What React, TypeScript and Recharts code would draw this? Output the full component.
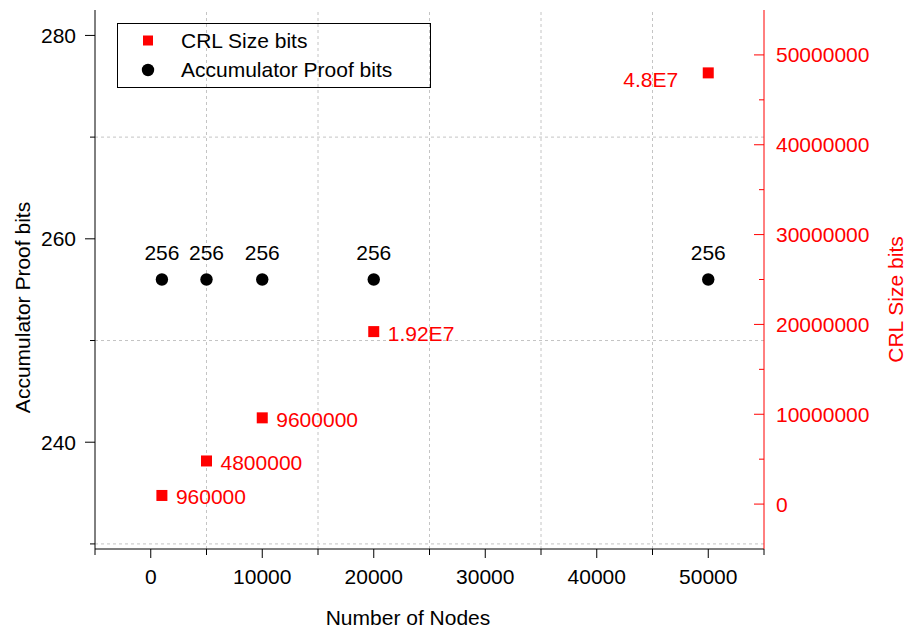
import { ScatterChart, Scatter, XAxis, YAxis, ReferenceLine, Legend } from 'recharts';

// number of nodes on the x axis
const NODES = [1000, 5000, 10000, 20000, 50000];

// accumulator proof size (left axis)
const ACC_PROOF_BITS = [256, 256, 256, 256, 256];
const ACC_LABELS = ['256', '256', '256', '256', '256'];

// CRL size (right axis)
const CRL_SIZE_BITS = [960000, 4800000, 9600000, 19200000, 48000000];
const CRL_LABELS = ['960000', '4800000', '9600000', '1.92E7', '4.8E7'];

const X_TICKS = [-5000, 0, 5000, 10000, 15000, 20000, 25000, 30000, 35000, 40000, 45000, 50000, 55000];
const X_LABELED = [0, 10000, 20000, 30000, 40000, 50000];
const X_GRID = [5000, 15000, 25000, 35000, 45000];

const LEFT_TICKS = [230, 240, 250, 260, 270, 280];
const LEFT_LABELED = [240, 260, 280];
const LEFT_GRID = [230, 250, 270];

const RIGHT_TICKS = [
  0, 5000000, 10000000, 15000000, 20000000, 25000000,
  30000000, 35000000, 40000000, 45000000, 50000000,
];
const RIGHT_LABELED = [0, 10000000, 20000000, 30000000, 40000000, 50000000];

const CRL_NAME = 'CRL Size bits';
const ACC_NAME = 'Accumulator Proof bits';

const RED = '#ff0000';
const GRID = '#c4c4c4';
const FONT = '"Liberation Sans", Arial, Helvetica, sans-serif';
const FS = 21;

const accData = NODES.map((n, i) => ({ x: n, y: ACC_PROOF_BITS[i], label: ACC_LABELS[i] }));
const crlData = NODES.map((n, i) => ({ x: n, y: CRL_SIZE_BITS[i], label: CRL_LABELS[i] }));

const AccMarker = (props: any) => {
  const { cx, cy, payload } = props;
  return (
    <g>
      <circle cx={cx} cy={cy} r={6.2} fill="#000" />
      <text x={cx} y={cy - 19.5} textAnchor="middle" fill="#000" fontSize={FS} fontFamily={FONT}>
        {payload.label}
      </text>
    </g>
  );
};

const CrlMarker = (props: any) => {
  const { cx, cy, payload } = props;
  // the last point sits near the right edge, so its label goes to the left
  const left = payload.x > 40000;
  return (
    <g>
      <rect x={cx - 5.5} y={cy - 5.5} width={11} height={11} fill={RED} />
      <text
        x={left ? cx - 30 : cx + 14}
        y={left ? cy + 14.5 : cy + 9}
        textAnchor={left ? 'end' : 'start'}
        fill={RED}
        fontSize={FS}
        fontFamily={FONT}
      >
        {payload.label}
      </text>
    </g>
  );
};

const renderXTick = (props: any) => {
  const { x, y, payload } = props;
  const major = X_LABELED.includes(payload.value);
  return (
    <g>
      <line x1={x} y1={y} x2={x} y2={y + (major ? 9 : 6)} stroke="#000" />
      {major && (
        <text x={x} y={y + 35} textAnchor="middle" fill="#000" fontSize={FS} fontFamily={FONT}>
          {payload.value}
        </text>
      )}
    </g>
  );
};

const renderLeftTick = (props: any) => {
  const { x, y, payload } = props;
  const major = LEFT_LABELED.includes(payload.value);
  return (
    <g>
      <line x1={x - (major ? 10 : 5)} y1={y} x2={x} y2={y} stroke="#000" />
      {major && (
        <text x={x - 19} y={y + 7.5} textAnchor="end" fill="#000" fontSize={FS} fontFamily={FONT}>
          {payload.value}
        </text>
      )}
    </g>
  );
};

const renderRightTick = (props: any) => {
  const { x, y, payload } = props;
  const major = RIGHT_LABELED.includes(payload.value);
  return (
    <g>
      <line x1={x - (major ? 10 : 5)} y1={y} x2={x} y2={y} stroke={RED} />
      {major && (
        <text x={x + 12} y={y + 7.5} textAnchor="start" fill={RED} fontSize={FS} fontFamily={FONT}>
          {payload.value}
        </text>
      )}
    </g>
  );
};

const renderXTitle = (props: any) => {
  const vb = props.viewBox || { x: 95, y: 549, width: 669, height: 79 };
  return (
    <text x={vb.x + vb.width / 2 - 21.5} y={vb.y + 76} textAnchor="middle" fill="#000" fontSize={FS} fontFamily={FONT}>
      Number of Nodes
    </text>
  );
};

const renderLeftTitle = (props: any) => {
  const vb = props.viewBox || { x: 0, y: 10, width: 95, height: 539 };
  const cx = vb.x + 30;
  const cy = vb.y + vb.height / 2 + 28;
  return (
    <text x={cx} y={cy} transform={`rotate(-90, ${cx}, ${cy})`} textAnchor="middle" fill="#000" fontSize={FS} fontFamily={FONT}>
      {ACC_NAME}
    </text>
  );
};

const renderRightTitle = (props: any) => {
  const vb = props.viewBox || { x: 764, y: 10, width: 142, height: 539 };
  const cx = vb.x + 139;
  const cy = vb.y + vb.height / 2 + 20;
  return (
    <text x={cx} y={cy} transform={`rotate(-90, ${cx}, ${cy})`} textAnchor="middle" fill={RED} fontSize={FS} fontFamily={FONT}>
      {CRL_NAME}
    </text>
  );
};

const renderLegend = () => (
  <svg width={314} height={65} style={{ display: 'block' }}>
    <rect x={0.5} y={0.5} width={313} height={64} fill="none" stroke="#000" />
    <rect x={26} y={12.5} width={10} height={10} fill={RED} />
    <text x={64} y={24.7} fill="#000" fontSize={FS} fontFamily={FONT}>
      {CRL_NAME}
    </text>
    <circle cx={31} cy={47} r={6.2} fill="#000" />
    <text x={64} y={54.3} fill="#000" fontSize={FS} fontFamily={FONT}>
      {ACC_NAME}
    </text>
  </svg>
);

export default function App() {
  return (
    <div style={{ position: 'absolute', left: 0, top: 0, background: '#fff' }}>
      <ScatterChart width={906} height={628} margin={{ top: 10, right: 0, bottom: 0, left: 0 }}>
        <XAxis
          type="number"
          dataKey="x"
          domain={[-5000, 55000]}
          ticks={X_TICKS}
          interval={0}
          allowDataOverflow
          height={79}
          tickSize={0}
          tickMargin={0}
          tickLine={false}
          axisLine={{ stroke: '#000' }}
          tick={renderXTick}
          label={renderXTitle}
        />
        <XAxis
          xAxisId="top"
          orientation="top"
          type="number"
          dataKey="x"
          domain={[-5000, 55000]}
          allowDataOverflow
          height={0}
          tick={false}
          tickLine={false}
          axisLine={{ stroke: '#000' }}
        />
        <YAxis
          yAxisId="left"
          orientation="left"
          type="number"
          dataKey="y"
          domain={[229.5, 282.5]}
          ticks={LEFT_TICKS}
          interval={0}
          allowDataOverflow
          width={95}
          tickSize={0}
          tickMargin={0}
          tickLine={false}
          axisLine={{ stroke: '#000' }}
          tick={renderLeftTick}
          label={renderLeftTitle}
        />
        <YAxis
          yAxisId="right"
          orientation="right"
          type="number"
          dataKey="y"
          domain={[-5000000, 55000000]}
          ticks={RIGHT_TICKS}
          interval={0}
          allowDataOverflow
          width={142}
          tickSize={0}
          tickMargin={0}
          tickLine={false}
          axisLine={{ stroke: RED }}
          tick={renderRightTick}
          label={renderRightTitle}
        />

        {/* dotted grid at the minor ticks */}
        {X_GRID.map((v) => (
          <ReferenceLine key={`gx-${v}`} x={v} yAxisId="left" stroke={GRID} strokeDasharray="3 3" />
        ))}
        {LEFT_GRID.map((v) => (
          <ReferenceLine key={`gy-${v}`} y={v} yAxisId="left" stroke={GRID} strokeDasharray="3 3" />
        ))}

        <Legend
          layout="horizontal"
          verticalAlign="middle"
          align="center"
          content={renderLegend}
          wrapperStyle={{ position: 'absolute', left: 117, top: 23, width: 314, height: 65, margin: 0, padding: 0 }}
        />

        <Scatter name={ACC_NAME} data={accData} yAxisId="left" shape={AccMarker} isAnimationActive={false} />
        <Scatter name={CRL_NAME} data={crlData} yAxisId="right" shape={CrlMarker} isAnimationActive={false} />
      </ScatterChart>
    </div>
  );
}
